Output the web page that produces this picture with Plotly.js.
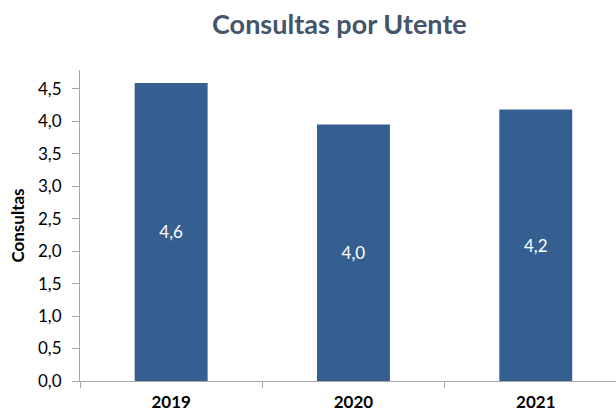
<!DOCTYPE html>
<html>
<head>
<meta charset="utf-8">
<script src="https://cdn.plot.ly/plotly-3.0.1.min.js"></script>
<style>body{margin:0;background:#fff}#chart{width:616px;height:412px}</style>
</head>
<body>
<div id="chart"></div>
<script>
// Consultas por utente, por ano
var anos = ['2019', '2020', '2021'];
var consultas = [4.59, 3.95, 4.18];
var rotulos = ['4,6', '4,0', '4,2'];
var yTicks = [0, 0.5, 1, 1.5, 2, 2.5, 3, 3.5, 4, 4.5];
var yTickText = ['0,0', '0,5', '1,0', '1,5', '2,0', '2,5', '3,0', '3,5', '4,0', '4,5'];

var trace = {
  x: anos,
  y: consultas,
  type: 'bar',
  width: 0.4,
  text: rotulos,
  textposition: 'inside',
  insidetextanchor: 'middle',
  textfont: {family: 'Lato, sans-serif', size: 17, color: '#ffffff'},
  marker: {color: '#355f91'},
  hoverinfo: 'none'
};

var layout = {
  width: 616,
  height: 412,
  margin: {l: 80, r: 0, t: 70, b: 31},
  paper_bgcolor: '#ffffff',
  plot_bgcolor: '#ffffff',
  showlegend: false,
  font: {family: 'Lato, sans-serif', color: '#000000'},
  title: {
    text: '<b>Consultas por Utente</b>',
    font: {family: 'Lato, sans-serif', size: 27, color: '#44546a'},
    x: 0.551,
    xanchor: 'center',
    y: 0.94,
    yanchor: 'middle'
  },
  xaxis: {
    type: 'category',
    range: [-0.5, 2.44],
    showline: true,
    linecolor: '#a6a6a6',
    linewidth: 1,
    ticks: 'outside',
    tickson: 'boundaries',
    ticklen: 6,
    tickcolor: '#a6a6a6',
    ticklabelstandoff: 6,
    showgrid: false,
    tickfont: {family: 'Lato, sans-serif', size: 17, color: '#000000', weight: 'bold'},
    fixedrange: true
  },
  yaxis: {
    range: [0, 4.79],
    tickvals: yTicks,
    ticktext: yTickText,
    showline: true,
    linecolor: '#a6a6a6',
    linewidth: 1,
    ticks: 'outside',
    ticklen: 7,
    tickcolor: '#a6a6a6',
    ticklabelstandoff: 7,
    showgrid: false,
    zeroline: false,
    tickfont: {family: 'Lato, sans-serif', size: 17, color: '#000000'},
    title: {
      text: '<b>Consultas</b>',
      font: {family: 'Lato, sans-serif', size: 17, color: '#000000'},
      standoff: 9
    },
    fixedrange: true
  }
};

Plotly.newPlot('chart', [trace], layout, {displayModeBar: false, staticPlot: true});
</script>
</body>
</html>
